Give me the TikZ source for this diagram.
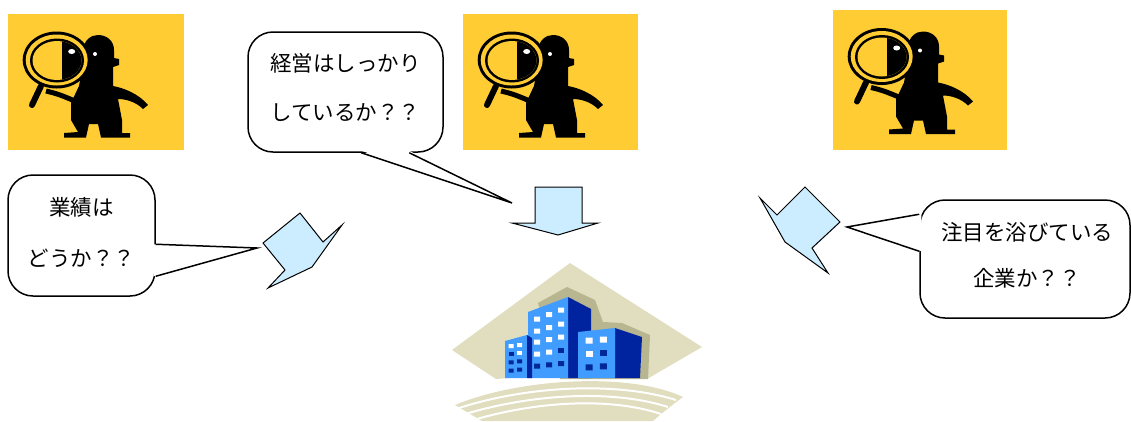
\documentclass[tikz,border=0pt]{standalone}
\usepackage{fontspec}
\setmainfont{Noto Sans CJK JP}
\usetikzlibrary{calc}

\definecolor{boxyellow}{RGB}{255,204,51}
\definecolor{arrowblue}{RGB}{204,236,255}
\definecolor{khaki}{RGB}{224,222,190}
\definecolor{khakidark}{RGB}{184,181,145}
\definecolor{frontblue}{RGB}{64,156,255}
\definecolor{sideblue}{RGB}{0,36,160}
\definecolor{winblue}{RGB}{0,40,150}

\tikzset{
  callout/.style={draw, line width=1.5pt, fill=white, rounded corners=25pt,
    inner sep=0pt},
  asktext/.style={align=center, inner sep=0pt},
  tail/.style={line width=1.5pt, line join=miter},
  blockarrow/.style={draw, line width=1pt, fill=arrowblue, line join=miter},
  lookout/.style={fill=boxyellow, inner sep=0pt, anchor=north west},
  % man with a magnifying glass, drawn from the top left corner of his box
  detective/.pic={
    \fill[black] (75,36) .. controls (76,26) and (83,21) .. (90,21)
      .. controls (99,21) and (106,27) .. (106,36)
      -- (106,44) -- (111,45) -- (111,51) -- (105,53) -- (105,72)
      .. controls (116,74) and (131,80) .. (140,91) -- (135,95)
      .. controls (128,88) and (118,85) .. (110,85)
      -- (114,106) -- (114,119) -- (122,119) -- (122,123.5)
      -- (93,123.5) -- (90,110) -- (81,110) -- (78,123.5)
      -- (56,123.5) -- (56,119) -- (70,118) -- (63,106) -- (63,89)
      -- (71,72) -- (75,50) -- cycle;
    \draw[black, line width=5pt] (38,77) .. controls (50,80) .. (67,87);
    \draw[black, line width=6pt, line cap=round] (33,72) -- (24,91);
    \fill[black] (48.7,46) ellipse (34 and 28.5);
    \fill[boxyellow] (48.7,46) ellipse (31 and 25.5);
    \fill[black] (49,46.5) ellipse (27 and 22);
    \fill[boxyellow] (49,46.5) ellipse (24.5 and 19.5);
    \begin{scope}
      \clip (49,46.5) ellipse (24.5 and 19.5);
      \fill[black] (54,20) rectangle (80,70);
    \end{scope}
    \fill[white] (63.7,37.5) ellipse (3.5 and 2.5);
    \fill[white] (87,40) circle (2);
  }
}

\begin{document}
\begin{tikzpicture}[x=1pt, y=-1pt]
\useasboundingbox (0,0) rectangle (1131,421);

% the three lookouts
\node[lookout, minimum width=176pt, minimum height=136pt] (look1) at (8,14) {};
\node[lookout, minimum width=175pt, minimum height=136pt] (look2) at (463,14) {};
\node[lookout, minimum width=174pt, minimum height=140pt] (look3) at (833,10) {};
\pic at (look1.north west) {detective};
\pic at (look2.north west) {detective};
\pic at ($(look3.north west)+(0,0.5)$) {detective};

% company building
\fill[khaki] (570,263) -- (702,347) -- (647,379)
  .. controls (600,375) and (545,375) .. (496,379) -- (452,350) -- cycle;
\fill[khakidark] (538,303) -- (567,287) -- (595,300) -- (603,322) -- (622,323)
  -- (650,335) -- (648,379) -- (560,379) -- cycle;

\fill[sideblue] (568,297) -- (591,309) -- (591,378) -- (568,378) -- cycle;
\fill[frontblue] (528,312) -- (568,297) -- (568,378) -- (528,378) -- cycle;
\fill[white] (534,316.5) rectangle ++(6,5) (546,312) rectangle ++(6,5) (558,307.5) rectangle ++(6,5);
\fill[white] (534,328.5) rectangle ++(6,5) (546,325) rectangle ++(6,5) (558,321.5) rectangle ++(6,5);
\fill[white] (534,339.5) rectangle ++(6,5) (546,337) rectangle ++(6,5) (558,334.5) rectangle ++(6,5);
\fill[white] (534,351.5) rectangle ++(6,5) (546,349.5) rectangle ++(6,5);
\fill[winblue] (558,347.5) rectangle ++(6,5);
\fill[winblue] (534,363.5) rectangle ++(6,5) (546,362.3) rectangle ++(6,5) (558,361.1) rectangle ++(6,5);

\fill[frontblue] (505,341) -- (527,335) -- (527,378) -- (505,378) -- cycle;
\fill[sideblue] (527,335) -- (532,338) -- (532,378) -- (527,378) -- cycle;
\fill[white] (508.5,344) rectangle ++(5,4) (517,343) rectangle ++(5,4);
\fill[winblue] (508.5,352) rectangle ++(5,4);
\fill[white] (517,351) rectangle ++(5,4);
\fill[winblue] (508.5,360.3) rectangle ++(5,4) (517,359.3) rectangle ++(5,4);
\fill[winblue] (508.5,368.7) rectangle ++(5,4) (517,367.7) rectangle ++(5,4);

\fill[sideblue] (615,328) -- (642,337) -- (640,378) -- (615,378) -- cycle;
\fill[frontblue] (578,332) -- (615,328) -- (615,378) -- (578,378) -- cycle;
\fill[white] (585.5,337.7) rectangle ++(7,6) (599.8,336.7) rectangle ++(7,6);
\fill[white] (585.5,351) rectangle ++(7,6);
\fill[winblue] (599.8,350) rectangle ++(7,6);
\fill[winblue] (585.5,364.3) rectangle ++(7,6) (599.8,363.3) rectangle ++(7,6);

% ground lines under the building
\fill[khaki] (455,405) .. controls (520,378) and (630,372) .. (683,397)
  .. controls (672,405) and (662,413) .. (653,421) -- (482,421) -- cycle;
\draw[white, line width=2pt] (456,409) .. controls (525,386) and (615,381) .. (676,400);
\draw[white, line width=2pt] (462,415) .. controls (530,394) and (612,389) .. (668,407);
\draw[white, line width=2pt] (470,421) .. controls (536,401) and (610,397) .. (661,414);

% arrows towards the company
\draw[blockarrow] (535,187) -- (582,187) -- (582,223) -- (598,223) -- (558,235)
  -- (512,223) -- (535,223) -- cycle;
\draw[blockarrow] (263,243) -- (300,213) -- (323,242) -- (342,225) -- (312,267)
  -- (268,288) -- (285,270) -- cycle;
\draw[blockarrow] (785,242) -- (760,198) -- (777,215) -- (805,187) -- (840,222)
  -- (812,248) -- (828,273) -- cycle;

% questions
\node[callout, minimum width=195pt, minimum height=120pt] (askMgmt) at (345.5,92) {};
\node[callout, minimum width=147pt, minimum height=121pt] (askPerf) at (81.5,235.5) {};
\node[callout, minimum width=210pt, minimum height=118pt] (askFame) at (1025,259) {};

\node[asktext, font=\fontsize{21.5}{49}\selectfont] (askMgmtText)
  at ($(askMgmt.center)+(0,-4.5)$) {経営はしっかり\\しているか？？};
\node[asktext, font=\fontsize{21.5}{51}\selectfont] (askPerfText)
  at ($(askPerf.center)+(0,-3)$) {業績は\\どうか？？};
\node[asktext, font=\fontsize{21.5}{46}\selectfont] (askFameText)
  at ($(askFame.center)+(2,-4)$) {注目を浴びている\\企業か？？};

\coordinate (tipMgmt) at (512,203);
\coordinate (tipPerf) at (257,248);
\coordinate (tipFame) at (847,227);

\path (askMgmt.south west) ++(114,0) coordinate (m1) ++(48,0) coordinate (m2);
\fill[white] ($(m1)+(0,-2)$) -- (tipMgmt) -- ($(m2)+(0,-2)$) -- cycle;
\draw[tail] (m1) -- (tipMgmt) -- (m2);

\path (askPerf.north east) ++(0,70) coordinate (p1) ++(0,32) coordinate (p2);
\fill[white] ($(p1)+(-2,0)$) -- (tipPerf) -- ($(p2)+(-2,0)$) -- cycle;
\draw[tail] (p1) -- (tipPerf) -- (p2);

\path (askFame.north west) ++(0,15) coordinate (f1) ++(0,37) coordinate (f2);
\fill[white] ($(f1)+(2,0)$) -- (tipFame) -- ($(f2)+(2,0)$) -- cycle;
\draw[tail] (f1) -- (tipFame) -- (f2);

\end{tikzpicture}
\end{document}
